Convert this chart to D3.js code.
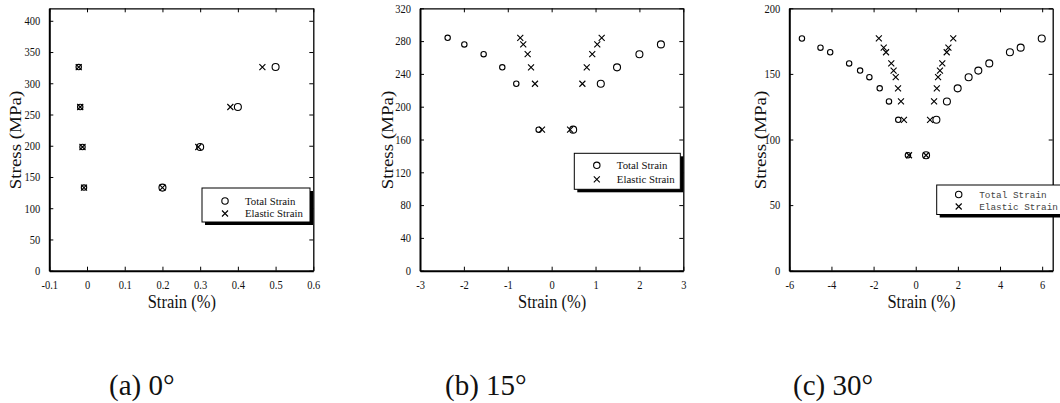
<!DOCTYPE html>
<html>
<head>
<meta charset="utf-8">
<script src="https://cdn.jsdelivr.net/npm/d3@7"></script>
<style>
  body { margin: 0; background: #fff; }
  svg { display: block; }
</style>
</head>
<body>
<svg id="chart" width="1060" height="403"></svg>
<script>
// ---- data ----
// (a) 0 deg
var stressA       = [326, 262, 198, 133];
var totalNegA     = [-0.022, -0.018, -0.012, -0.008];
var totalPosA     = [0.5, 0.4, 0.3, 0.2];
var elasticNegA   = [-0.022, -0.018, -0.012, -0.008];
var elasticPosA   = [0.465, 0.38, 0.295, 0.2];
var xTicksA = [-0.1, 0, 0.1, 0.2, 0.3, 0.4, 0.5, 0.6];
var yTicksA = [0, 50, 100, 150, 200, 250, 300, 350, 400];

// (b) 15 deg
var stressB       = [284, 276, 264, 248, 228, 172];
var totalNegB     = [-2.37, -1.99, -1.55, -1.125, -0.806, -0.296];
var totalPosB     = [null, 2.49, 2.0, 1.49, 1.12, 0.49];
var elasticNegB   = [-0.715, -0.647, -0.547, -0.47, -0.38, -0.22];
var elasticPosB   = [1.14, 1.04, 0.925, 0.80, 0.70, 0.42];
var xTicksB = [-3, -2, -1, 0, 1, 2, 3];
var yTicksB = [0, 40, 80, 120, 160, 200, 240, 280, 320];

// (c) 30 deg
var stressC       = [177, 170, 166.5, 158, 152.5, 147.5, 139, 129, 115, 88];
var totalNegC     = [-5.4, -4.52, -4.06, -3.16, -2.64, -2.2, -1.71, -1.27, -0.83, -0.37];
var totalPosC     = [5.98, 4.98, 4.47, 3.49, 2.97, 2.51, 1.99, 1.48, 0.98, 0.49];
var elasticNegC   = [-1.75, -1.52, -1.41, -1.16, -1.05, -0.95, -0.84, -0.70, -0.56, -0.32];
var elasticPosC   = [1.78, 1.55, 1.47, 1.26, 1.15, 1.06, 1.0, 0.87, 0.68, 0.49];
var xTicksC = [-6, -4, -2, 0, 2, 4, 6];
var yTicksC = [0, 50, 100, 150, 200];

var seriesNames = ['Total Strain', 'Elastic Strain'];
var captions = ['(a) 0\u00b0', '(b) 15\u00b0', '(c) 30\u00b0'];

// ---- layout ----
var serif = '"Liberation Serif", "Times New Roman", serif';
var mono = '"Liberation Mono", "Courier New", monospace';
var STRETCH = 1.15;   // text in the scan is a bit taller than wide
var plotTop = 8.3, plotBottom = 270.7;

function pts(strain, stress) {
    var out = [];
    strain.forEach(function (s, i) {
        if (s != null) out.push({ x: s, y: stress[i] });
    });
    return out;
}

var panels = [
    { left: 49.3, right: 313.3, xDomain: [-0.1, 0.6], yDomain: [0, 420],
      xTicks: xTicksA, yTicks: yTicksA,
      total: pts(totalNegA, stressA).concat(pts(totalPosA, stressA)),
      elastic: pts(elasticNegA, stressA).concat(pts(elasticPosA, stressA)),
      legend: { x: 202, y: 188, w: 108, h: 34, r1: 13, r2: 25.5, sym: 23, txt: 43, mono: false },
      yTitleX: 21, caption: captions[0], capX: 109 },
    { left: 420, right: 683.3, xDomain: [-3, 3], yDomain: [0, 320],
      xTicks: xTicksB, yTicks: yTicksB,
      total: pts(totalNegB, stressB).concat(pts(totalPosB, stressB)),
      elastic: pts(elasticNegB, stressB).concat(pts(elasticPosB, stressB)),
      legend: { x: 574.3, y: 153.3, w: 106, h: 36, r1: 12, r2: 26, sym: 22.5, txt: 42.5, mono: false },
      yTitleX: 393, caption: captions[1], capX: 445 },
    { left: 789.3, right: 1052.7, xDomain: [-6, 6.5], yDomain: [0, 200],
      xTicks: xTicksC, yTicks: yTicksC,
      total: pts(totalNegC, stressC).concat(pts(totalPosC, stressC)),
      elastic: pts(elasticNegC, stressC).concat(pts(elasticPosC, stressC)),
      legend: { x: 936.7, y: 185, w: 140, h: 29.5, r1: 9.5, r2: 21.5, sym: 22, txt: 42.5, mono: true },
      yTitleX: 766, caption: captions[2], capX: 793 }
];

var svg = d3.select('#chart');

function stretch(sel, sx, sy) {
    sel.each(function () {
        var t = d3.select(this);
        var x = +t.attr('x') || 0, y = +t.attr('y') || 0;
        t.attr('x', null).attr('y', null)
         .attr('transform', 'translate(' + x + ',' + y + ') scale(' + sx + ',' + sy + ')');
    });
}

function crossPath(cx, cy, s) {
    return 'M' + (cx - s) + ',' + (cy - s) + 'L' + (cx + s) + ',' + (cy + s) +
           'M' + (cx - s) + ',' + (cy + s) + 'L' + (cx + s) + ',' + (cy - s);
}

panels.forEach(function (p) {
    var x = d3.scaleLinear().domain(p.xDomain).range([p.left, p.right]);
    var y = d3.scaleLinear().domain(p.yDomain).range([plotBottom, plotTop]);
    var g = svg.append('g');

    // bottom axis with labels
    var bottom = g.append('g')
        .attr('transform', 'translate(0,' + plotBottom + ')')
        .call(d3.axisBottom(x).tickValues(p.xTicks).tickSizeInner(-4).tickSizeOuter(0)
              .tickPadding(10).tickFormat(function (d) { return String(d); }));
    // left axis with labels
    var leftAx = g.append('g')
        .attr('transform', 'translate(' + p.left + ',0)')
        .call(d3.axisLeft(y).tickValues(p.yTicks).tickSizeInner(-4).tickSizeOuter(0)
              .tickPadding(9).tickFormat(function (d) { return String(d); }));
    // mirrored ticks top and right
    var topAx = g.append('g')
        .attr('transform', 'translate(0,' + plotTop + ')')
        .call(d3.axisTop(x).tickValues(p.xTicks).tickSizeInner(-4).tickSizeOuter(0).tickFormat(''));
    var rightAx = g.append('g')
        .attr('transform', 'translate(' + p.right + ',0)')
        .call(d3.axisRight(y).tickValues(p.yTicks).tickSizeInner(-4).tickSizeOuter(0).tickFormat(''));

    [bottom, leftAx].forEach(function (a) {
        a.selectAll('.domain').attr('stroke', '#000').attr('stroke-width', 2);
        a.selectAll('.tick line').attr('stroke', '#000').attr('stroke-width', 1);
        a.selectAll('.tick text').attr('fill', '#111')
            .style('font-family', serif).style('font-size', '10.5px');
    });
    [topAx, rightAx].forEach(function (a) {
        a.selectAll('.domain').attr('stroke', '#000').attr('stroke-width', 1.3);
        a.selectAll('.tick line').attr('stroke', '#000').attr('stroke-width', 1);
    });
    stretch(bottom.selectAll('.tick text'), 1, STRETCH);
    stretch(leftAx.selectAll('.tick text'), 1, STRETCH);

    // axis titles
    var xt = g.append('text')
        .attr('x', (p.left + p.right) / 2 + 0.5).attr('y', 307.5)
        .attr('text-anchor', 'middle')
        .style('font-family', serif).style('font-size', '16.5px').attr('fill', '#111')
        .text('Strain (%)');
    stretch(xt, 1, STRETCH);

    g.append('text')
        .attr('transform', 'translate(' + p.yTitleX + ',140) rotate(-90) scale(' + STRETCH + ',1)')
        .attr('text-anchor', 'middle')
        .style('font-family', serif).style('font-size', '16.5px').attr('fill', '#111')
        .text('Stress (MPa)');

    // markers
    g.selectAll('circle.total')
        .data(p.total)
        .enter().append('circle')
        .attr('class', 'total')
        .attr('cx', function (d) { return x(d.x); })
        .attr('cy', function (d) { return y(d.y); })
        .attr('r', function (d) { return d.x < 0 ? 2.7 : 3.5; })
        .attr('fill', 'none').attr('stroke', '#000').attr('stroke-width', 1.1);

    g.selectAll('path.elastic')
        .data(p.elastic)
        .enter().append('path')
        .attr('class', 'elastic')
        .attr('d', function (d) { return crossPath(x(d.x), y(d.y), 3); })
        .attr('fill', 'none').attr('stroke', '#000').attr('stroke-width', 1.1);

    // legend with drop shadow
    var L = p.legend;
    var lg = g.append('g');
    lg.append('rect')
        .attr('x', L.x + 3).attr('y', L.y + 3).attr('width', L.w).attr('height', L.h)
        .attr('fill', '#000');
    lg.append('rect')
        .attr('x', L.x).attr('y', L.y).attr('width', L.w).attr('height', L.h)
        .attr('fill', '#fff').attr('stroke', '#000').attr('stroke-width', 1);
    lg.append('circle')
        .attr('cx', L.x + L.sym).attr('cy', L.y + L.r1).attr('r', 3.2)
        .attr('fill', 'none').attr('stroke', '#000').attr('stroke-width', 1.1);
    lg.append('path')
        .attr('d', crossPath(L.x + L.sym, L.y + L.r2, 3))
        .attr('fill', 'none').attr('stroke', '#000').attr('stroke-width', 1.1);
    lg.selectAll('text.lab')
        .data(seriesNames)
        .enter().append('text')
        .attr('class', 'lab')
        .attr('x', L.x + L.txt)
        .attr('y', function (d, i) { return L.y + (i === 0 ? L.r1 : L.r2); })
        .attr('dy', '0.35em')
        .style('font-family', L.mono ? mono : serif)
        .style('font-size', L.mono ? '9.4px' : '10.8px')
        .attr('fill', L.mono ? '#444' : '#111')
        .text(function (d) { return d; });

    // caption under the panel
    g.append('text')
        .attr('x', p.capX).attr('y', 395)
        .style('font-family', serif).style('font-size', '29px').attr('fill', '#111')
        .text(p.caption);
});
</script>
</body>
</html>
